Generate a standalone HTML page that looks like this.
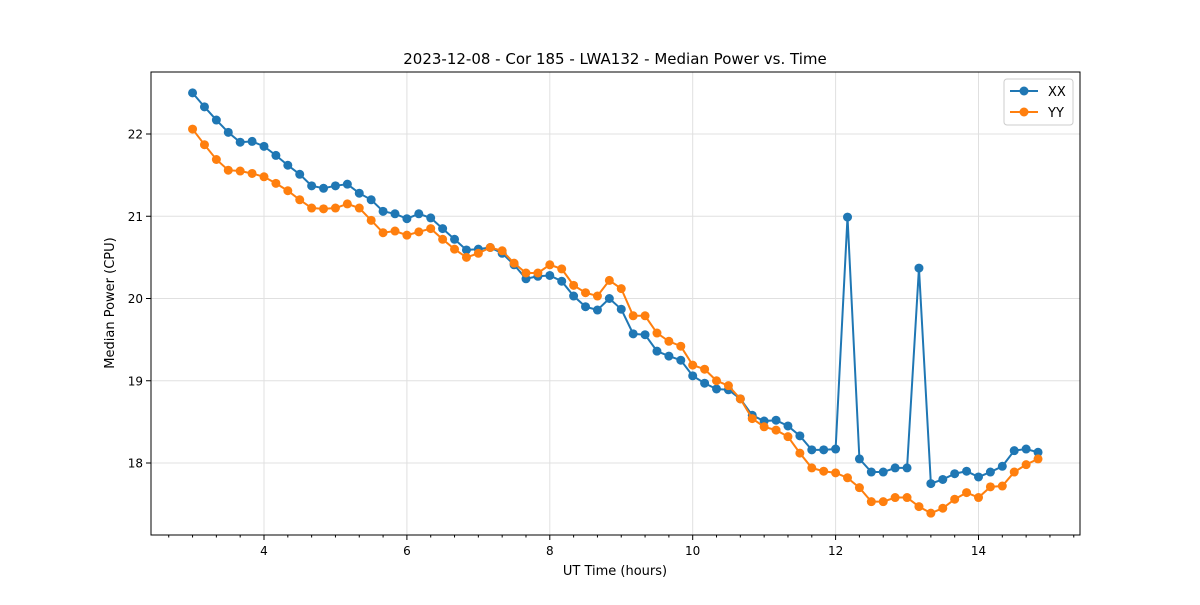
<!DOCTYPE html>
<html><head><meta charset="utf-8"><style>
body{margin:0;background:#fff;font-family:"Liberation Sans","DejaVu Sans",sans-serif;}
svg text{font-family:"DejaVu Sans","Liberation Sans",sans-serif;}
</style></head><body>
<svg id="chart" width="1200" height="600" viewBox="0 0 1200 600">
<rect width="1200" height="600" fill="#fff"/>
<text x="615" y="64" font-size="15" text-anchor="middle">2023-12-08 - Cor 185 - LWA132 - Median Power vs. Time</text>
<g id="grid"></g><g id="axes"></g><g id="series"></g>
<rect x="151" y="72" width="929" height="463" fill="none" stroke="#000" stroke-width="1"/>
<text x="615" y="575" font-size="13" text-anchor="middle">UT Time (hours)</text>
<text x="114" y="303" font-size="13" text-anchor="middle" transform="rotate(-90 114 303)">Median Power (CPU)</text>
<g>
<rect x="1004" y="79" width="69" height="46" rx="3" fill="#fff" stroke="#ccc"/>
<g><line x1="1010" y1="91" x2="1038" y2="91" stroke="#1f77b4" stroke-width="2"/><circle cx="1024" cy="91" r="4.5" fill="#1f77b4"/><text x="1048" y="96" font-size="13">XX</text></g>
<g><line x1="1010" y1="112" x2="1038" y2="112" stroke="#ff7f0e" stroke-width="2"/><circle cx="1024" cy="112" r="4.5" fill="#ff7f0e"/><text x="1048" y="117" font-size="13">YY</text></g>
</g>
</svg>
<script>
const xTicks=[4,6,8,10,12,14];
const yTicks=[18,19,20,21,22];
const xx=[22.50,22.33,22.17,22.02,21.90,21.91,21.85,21.74,21.62,21.51,21.37,21.34,21.37,21.39,21.28,21.20,21.06,21.03,20.97,21.03,20.98,20.85,20.72,20.59,20.60,20.62,20.55,20.41,20.24,20.27,20.28,20.21,20.03,19.90,19.86,20.00,19.87,19.57,19.56,19.36,19.30,19.25,19.06,18.97,18.90,18.89,18.78,18.58,18.51,18.52,18.45,18.33,18.16,18.16,18.17,20.99,18.05,17.89,17.89,17.94,17.94,20.37,17.75,17.80,17.87,17.90,17.83,17.89,17.96,18.15,18.17,18.13];
const yy=[22.06,21.87,21.69,21.56,21.55,21.52,21.48,21.40,21.31,21.20,21.10,21.09,21.10,21.15,21.10,20.95,20.80,20.82,20.77,20.81,20.85,20.72,20.60,20.50,20.55,20.62,20.58,20.43,20.31,20.31,20.41,20.36,20.16,20.07,20.03,20.22,20.12,19.79,19.79,19.58,19.48,19.42,19.19,19.14,19.00,18.94,18.78,18.54,18.44,18.40,18.32,18.12,17.94,17.90,17.88,17.82,17.70,17.53,17.53,17.58,17.58,17.47,17.39,17.45,17.56,17.64,17.58,17.71,17.72,17.89,17.98,18.05];
const times=xx.map((_,i)=>3+i/6);
const X=t=>264+(t-4)*71.45;
const Y=v=>463-(v-18)*82.25;
const NS="http://www.w3.org/2000/svg";
function mk(tag,attrs,parent){const e=document.createElementNS(NS,tag);for(const k in attrs)e.setAttribute(k,attrs[k]);parent.appendChild(e);return e;}
const grid=document.getElementById('grid'),axes=document.getElementById('axes'),ser=document.getElementById('series');
xTicks.forEach(t=>{
 const g=mk('line',{x1:X(t),x2:X(t),y1:72,y2:535,stroke:'#e0e0e0','stroke-width':1},grid);
 
 
 mk('line',{x1:X(t),x2:X(t),y1:535,y2:540,stroke:'#000'},axes);
 const l=mk('text',{x:X(t),y:555,'font-size':12,'text-anchor':'middle'},axes);l.textContent=t;
 
 
});
for(let k=8;k<=46;k++){if(k%6===0)continue;const t=k/3;mk('line',{x1:X(t),x2:X(t),y1:535,y2:537.5,stroke:'#000'},axes);}
yTicks.forEach(v=>{
 const g=mk('line',{x1:151,x2:1080,y1:Y(v),y2:Y(v),stroke:'#e0e0e0','stroke-width':1},grid);
 
 
 mk('line',{x1:146,x2:151,y1:Y(v),y2:Y(v),stroke:'#000'},axes);
 const l=mk('text',{x:143,y:Y(v)+4.5,'font-size':12,'text-anchor':'end'},axes);l.textContent=v;
 
 
});
function draw(data,color,name){
 const pl=mk('polyline',{points:data.map((v,i)=>X(times[i])+','+Y(v)).join(' '),fill:'none',stroke:color,'stroke-width':2},ser);
 
 
 data.forEach((v,i)=>{const c=mk('circle',{cx:X(times[i]),cy:Y(v),r:4.5,fill:color},ser);
  
  });
}
draw(xx,'#1f77b4','xx');
draw(yy,'#ff7f0e','yy');
</script>
</body></html>
